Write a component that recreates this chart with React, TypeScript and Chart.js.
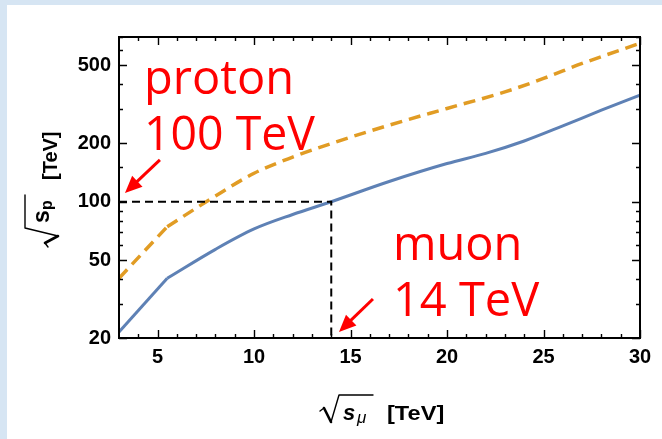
import { useEffect, useRef } from "react";
import { Chart, registerables } from "chart.js";

Chart.register(...registerables);

// Axis ranges and tick marks
const X_MIN = 3;
const X_MAX = 30;
const Y_MIN = 20;
const Y_MAX = 700;
const xMajorTicks = [5, 10, 15, 20, 25, 30];
const xMinorTicks = [4, 6, 7, 8, 9, 11, 12, 13, 14, 16, 17, 18, 19, 21, 22, 23, 24, 26, 27, 28, 29];
const yMajorTicks = [20, 50, 100, 200, 500];
const yMinorTicks = [30, 40, 60, 70, 80, 90, 150, 300, 400, 600, 700];

// Equivalent proton collider energy vs muon collider energy.
// Each curve is a straight ramp up to the kink, then a smooth curve.
const rampX = [3, 5.5];
const solidRampY = [21.5, 40.5];
const dashedRampY = [40.5, 74.5];
const solidCurveX = [5.5, 8, 10, 12, 14, 17, 20, 22, 24, 26, 28, 30];
const solidCurveY = [40.5, 57, 72.5, 86, 100, 127, 157, 177, 205, 245, 295, 352];
const dashedCurveX = [5.5, 8, 10, 12, 14, 17, 20, 23, 25, 27, 30];
const dashedCurveY = [74.5, 107, 140, 169.5, 199, 247, 301, 366, 429, 512, 650];

// Benchmark guide: 14 TeV muon <-> 100 TeV proton
const guideX = [3, 14, 14];
const guideY = [100, 100, 20];

// Red callout arrows (data coordinates: tail -> head)
const arrowTailX = [5.12, 16.16];
const arrowTailY = [164, 31.7];
const arrowHeadX = [3.31, 14.4];
const arrowHeadY = [111, 21.5];

// Red callout text
const calloutLines = [
  ["proton", "100 TeV"],
  ["muon", "14 TeV"],
];

const SOLID_BLUE = "#5e81b5";
const DASH_ORANGE = "#e19c24";
const RED = "#ff0000";

const pts = (xs: number[], ys: number[]) => xs.map((x, i) => ({ x, y: ys[i] }));

const framePlugin = {
  id: "frameTicks",
  afterDraw(chart: any) {
    const { ctx, chartArea: a, scales } = chart;
    const xs = scales.x;
    const ys = scales.y;
    ctx.save();
    ctx.strokeStyle = "#000";
    ctx.lineWidth = 1.4;
    const xTick = (vals: number[], len: number) => {
      vals.forEach((v) => {
        const px = Math.round(xs.getPixelForValue(v)) + 0.5;
        ctx.beginPath();
        ctx.moveTo(px, a.bottom);
        ctx.lineTo(px, a.bottom - len);
        ctx.moveTo(px, a.top);
        ctx.lineTo(px, a.top + len);
        ctx.stroke();
      });
    };
    const yTick = (vals: number[], len: number) => {
      vals.forEach((v) => {
        const py = Math.round(ys.getPixelForValue(v)) + 0.5;
        ctx.beginPath();
        ctx.moveTo(a.left, py);
        ctx.lineTo(a.left + len, py);
        ctx.moveTo(a.right, py);
        ctx.lineTo(a.right - len, py);
        ctx.stroke();
      });
    };
    xTick(xMajorTicks, 8);
    xTick(xMinorTicks, 4);
    yTick(yMajorTicks, 8);
    yTick(yMinorTicks, 4);
    ctx.lineWidth = 2;
    ctx.strokeRect(a.left, a.top, a.right - a.left, a.bottom - a.top);
    ctx.restore();
  },
};

function stretchedText(ctx: CanvasRenderingContext2D, text: string, x: number, y: number, sx: number) {
  ctx.save();
  ctx.translate(x, y);
  ctx.scale(sx, 1);
  ctx.fillText(text, 0, 0);
  ctx.restore();
}

function drawRadical(ctx: CanvasRenderingContext2D, top: number, bottom: number, end: number) {
  ctx.lineCap = "round";
  ctx.lineJoin = "round";
  ctx.lineWidth = 1.4;
  ctx.beginPath();
  ctx.moveTo(0, -9);
  ctx.lineTo(4, -12);
  ctx.stroke();
  ctx.lineWidth = 2.6;
  ctx.beginPath();
  ctx.moveTo(4, -12);
  ctx.lineTo(11, bottom);
  ctx.stroke();
  ctx.lineWidth = 1.4;
  ctx.beginPath();
  ctx.moveTo(11, bottom);
  ctx.lineTo(19, top);
  ctx.lineTo(end, top);
  ctx.stroke();
}

const axisTitlePlugin = {
  id: "axisTitles",
  afterDraw(chart: any) {
    const { ctx } = chart;
    ctx.save();
    ctx.fillStyle = "#000";
    ctx.strokeStyle = "#000";
    ctx.textAlign = "left";
    ctx.textBaseline = "alphabetic";

    // x axis title: sqrt(s_mu) [TeV]
    ctx.save();
    ctx.translate(320, 420);
    drawRadical(ctx, -25, 2, 53);
    ctx.font = 'italic bold 22px "Liberation Sans"';
    ctx.fillText("s", 23, 0);
    ctx.font = 'italic 17px "Liberation Sans"';
    ctx.fillText("μ", 37, 3);
    ctx.font = 'bold 20px "Liberation Sans"';
    stretchedText(ctx, "[TeV]", 67, 0, 1.18);
    ctx.restore();

    // y axis title: sqrt(s_p) [TeV]
    ctx.save();
    ctx.translate(57, 247);
    ctx.rotate(-Math.PI / 2);
    drawRadical(ctx, -32, 1, 52);
    ctx.font = 'bold 23px "Liberation Sans"';
    ctx.fillText("s", 24, -8);
    ctx.font = 'bold 16px "Liberation Sans"';
    ctx.fillText("p", 37, -5);
    ctx.font = 'bold 20px "Liberation Sans"';
    ctx.fillText("[TeV]", 67, 0);
    ctx.restore();

    ctx.restore();
  },
};

const calloutPlugin = {
  id: "callouts",
  afterDraw(chart: any) {
    const { ctx, scales } = chart;
    const xs = scales.x;
    const ys = scales.y;
    ctx.save();
    ctx.fillStyle = RED;
    ctx.strokeStyle = RED;

    // arrows
    arrowTailX.forEach((_, i) => {
      const x0 = xs.getPixelForValue(arrowTailX[i]);
      const y0 = ys.getPixelForValue(arrowTailY[i]);
      const x1 = xs.getPixelForValue(arrowHeadX[i]);
      const y1 = ys.getPixelForValue(arrowHeadY[i]);
      const ang = Math.atan2(y1 - y0, x1 - x0);
      const headLen = 17;
      const headHalf = 7.5;
      const bx = x1 - headLen * Math.cos(ang);
      const by = y1 - headLen * Math.sin(ang);
      ctx.lineWidth = 3;
      ctx.lineCap = "butt";
      ctx.beginPath();
      ctx.moveTo(x0, y0);
      ctx.lineTo(bx + 2 * Math.cos(ang), by + 2 * Math.sin(ang));
      ctx.stroke();
      ctx.beginPath();
      ctx.moveTo(x1, y1);
      ctx.lineTo(bx + headHalf * Math.sin(ang), by - headHalf * Math.cos(ang));
      ctx.lineTo(bx - headHalf * Math.sin(ang), by + headHalf * Math.cos(ang));
      ctx.closePath();
      ctx.fill();
    });

    // labels
    ctx.font = '47px "Open Sans"';
    ctx.textAlign = "left";
    ctx.textBaseline = "alphabetic";
    const anchors = [
      { x: 144, y: 94, w: [153, 171] },
      { x: 393, y: 260, w: [131, 147] },
    ];
    calloutLines.forEach((lines, i) => {
      lines.forEach((line, j) => {
        ctx.fillText(line, anchors[i].x, anchors[i].y + j * 56, anchors[i].w[j]);
      });
    });
    ctx.restore();
  },
};

export default function App() {
  const canvasRef = useRef<HTMLCanvasElement | null>(null);

  useEffect(() => {
    if (!canvasRef.current) return;
    const tickFont = { family: '"Liberation Sans", Arial, sans-serif', size: 20, weight: "bold" as const };
    const chart = new Chart(canvasRef.current, {
      type: "line",
      data: {
        datasets: [
          {
            data: pts(guideX, guideY),
            borderColor: "#000",
            borderWidth: 2,
            borderDash: [8, 5],
            pointRadius: 0,
            tension: 0,
          },
          {
            data: pts(rampX, dashedRampY),
            borderColor: DASH_ORANGE,
            borderWidth: 3.5,
            borderDash: [12, 7],
            pointRadius: 0,
            tension: 0,
          },
          {
            data: pts(dashedCurveX, dashedCurveY),
            borderColor: DASH_ORANGE,
            borderWidth: 3.5,
            borderDash: [12, 7],
            pointRadius: 0,
            cubicInterpolationMode: "monotone",
          },
          {
            data: pts(rampX, solidRampY),
            borderColor: SOLID_BLUE,
            borderWidth: 3,
            pointRadius: 0,
            tension: 0,
          },
          {
            data: pts(solidCurveX, solidCurveY),
            borderColor: SOLID_BLUE,
            borderWidth: 3,
            pointRadius: 0,
            cubicInterpolationMode: "monotone",
          },
        ],
      },
      options: {
        animation: false,
        responsive: false,
        devicePixelRatio: 1,
        parsing: false,
        layout: { padding: { left: 0, top: 37, right: 22, bottom: 0 } },
        plugins: { legend: { display: false }, tooltip: { enabled: false } },
        scales: {
          x: {
            type: "linear",
            min: X_MIN,
            max: X_MAX,
            grid: { display: false, drawTicks: false },
            border: { display: false },
            afterBuildTicks: (s: any) => {
              s.ticks = xMajorTicks.map((value) => ({ value }));
            },
            afterFit: (s: any) => {
              s.height = 101;
            },
            ticks: {
              autoSkip: false,
              maxRotation: 0,
              padding: 7,
              color: "#000",
              font: tickFont,
              callback: (v: any) => String(v),
            },
          },
          y: {
            type: "logarithmic",
            min: Y_MIN,
            max: Y_MAX,
            grid: { display: false, drawTicks: false },
            border: { display: false },
            afterBuildTicks: (s: any) => {
              s.ticks = yMajorTicks.map((value) => ({ value }));
            },
            afterFit: (s: any) => {
              s.width = 119;
            },
            ticks: {
              autoSkip: false,
              padding: 8,
              color: "#000",
              font: tickFont,
              callback: (v: any) => String(v),
            },
          },
        },
      },
      plugins: [framePlugin, axisTitlePlugin, calloutPlugin],
    });
    return () => chart.destroy();
  }, []);

  return (
    <div style={{ position: "fixed", left: 0, top: 0, width: 662, height: 439, background: "#d6e5f3" }}>
      <div style={{ position: "absolute", left: 7, top: 5, width: 655, height: 434, background: "#ffffff" }} />
      <canvas
        ref={canvasRef}
        width={662}
        height={439}
        style={{ position: "absolute", left: 0, top: 0, width: 662, height: 439 }}
      />
    </div>
  );
}
